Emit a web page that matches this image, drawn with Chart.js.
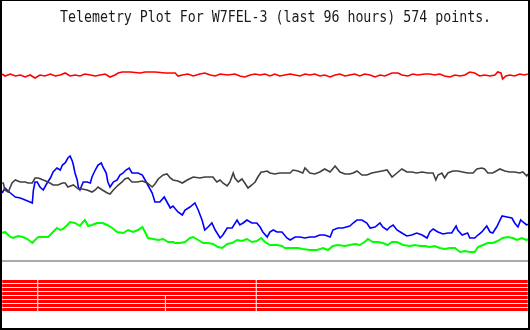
<!DOCTYPE html>
<html lang="en">
<head>
  <meta charset="UTF-8" />
  <title>Telemetry Plot For W7FEL-3</title>
  <script src="https://cdn.jsdelivr.net/npm/chart.js"></script>
  <style>
    body { margin: 0; background: #fff; }
    #wrap { position: relative; width: 530px; height: 330px; }
    #plot { position: absolute; left: 0; top: 0; }
    #frame {
      position: absolute; left: 0; top: 0; width: 530px; height: 330px;
      box-sizing: border-box; pointer-events: none;
      border-style: solid; border-color: #000;
      border-width: 1px 2px 2px 2px;
    }
    #title {
      position: absolute; left: 60px; top: 9px;
      font-family: "DejaVu Sans Mono", monospace; font-size: 15px; line-height: 16px;
      color: #1a1a1a; white-space: pre;
      transform: scaleX(0.884); transform-origin: left top;
    }
  </style>
</head>
<body>
  <div id="wrap">
    <canvas id="plot" width="530" height="330"></canvas>
    <div id="title">Telemetry Plot For W7FEL-3 (last 96 hours) 574 points.</div>
    <div id="frame"></div>
  </div>

  <script>
    // [hours, level]
    const redSeries = [
      [0,256],[0.5,254],[1.5,256],[2.4,254],[3.3,255],[4.2,253],[5.1,255],[6.0,252],[6.9,255],[7.8,254],
      [8.8,256],[9.7,254],[10.6,255],[11.5,257],[12.4,254],[13.3,255],[14.2,254],[15.1,256],[16.1,255],[17.0,254],
      [17.9,255],[18.8,256],[19.7,253],[20.6,255],[21.2,257],[21.9,258],[23.4,258],[25.2,257],[26.1,258],[27.9,258],
      [29.8,257],[31.6,257],[32.1,254],[32.9,255],[33.9,256],[34.9,254],[36.1,256],[37.0,257],[38.0,255],[38.9,254],
      [39.8,256],[41.2,255],[42.5,256],[43.4,254],[44.3,253],[45.3,255],[46.2,256],[47.1,255],[48.0,256],[48.9,254],
      [49.8,256],[50.7,254],[51.6,255],[52.6,256],[53.5,255],[54.4,254],[55.3,256],[56.2,255],[57.1,256],[58.0,254],
      [58.9,255],[59.9,253],[60.8,255],[61.7,256],[62.6,254],[63.5,255],[64.4,256],[65.3,254],[66.2,256],[67.2,255],
      [68.1,253],[69.0,255],[69.9,254],[71.2,257],[72.3,257],[73.0,255],[74.1,254],[75.0,256],[75.9,255],[77.2,256],
      [78.1,256],[79.0,255],[79.9,256],[80.8,254],[81.8,253],[82.7,255],[83.6,254],[84.5,255],[85.4,258],[86.3,257],
      [87.2,254],[88.1,255],[89.1,254],[90.0,255],[90.5,258],[91.1,257],[91.4,251],[92.0,254],[92.7,255],[93.6,254],
      [94.5,256],[95.4,255],[96.0,256]
    ];

    const blackSeries = [
      [0,147],[0.2,147],[0.5,140],[1.1,138],[1.8,147],[2.4,150],[3.3,148],[4.2,148],[4.7,147],[5.5,147],
      [6.0,152],[6.6,152],[7.5,150],[8.4,148],[9.3,145],[10.2,145],[11.0,147],[11.5,147],[12.0,143],[13.0,145],
      [13.9,141],[14.6,141],[15.5,140],[16.4,138],[17.0,140],[17.5,143],[18.3,140],[19.2,137],[19.7,136],[20.3,140],
      [21.2,145],[21.9,148],[22.4,151],[23.0,152],[23.7,148],[24.6,148],[25.6,149],[26.5,147],[27.4,143],[27.9,146],
      [28.5,151],[29.4,155],[30.1,156],[30.7,152],[31.2,150],[32.1,149],[32.9,147],[33.8,150],[34.9,153],[36.1,152],
      [37.0,153],[38.0,153],[38.5,153],[38.9,150],[39.2,148],[39.8,150],[40.3,147],[41.1,144],[41.6,148],[42.2,157],
      [42.5,152],[43.1,148],[43.8,151],[44.3,147],[44.9,142],[45.6,145],[46.2,148],[46.7,153],[47.3,158],[47.6,158],
      [48.4,159],[48.9,157],[49.8,156],[50.7,157],[51.6,157],[52.6,157],[53.1,160],[54.0,159],[54.9,157],[55.3,162],
      [56.2,157],[57.1,156],[58.0,158],[58.9,161],[59.9,158],[60.8,164],[61.7,158],[62.6,156],[63.5,156],[64.1,157],
      [64.8,159],[65.7,155],[66.6,155],[67.5,157],[68.4,158],[69.4,159],[70.3,160],[71.2,153],[72.1,157],[73.0,161],
      [73.9,158],[74.8,158],[75.7,157],[76.7,158],[77.7,157],[78.7,157],[79.2,150],[79.6,155],[80.3,157],[80.8,152],
      [81.4,157],[82.3,159],[83.2,159],[84.1,158],[85.0,157],[86.0,157],[86.7,161],[87.6,162],[88.1,161],[88.7,157],
      [89.6,157],[90.9,161],[91.8,159],[92.7,158],[93.6,158],[94.5,157],[95.1,158],[95.8,154],[96.0,156]
    ];

    const blueSeries = [
      [0,137],[0.5,142],[1.5,137],[2.4,133],[3.3,132],[4.2,130],[5.1,128],[5.5,127],[5.7,140],[6.0,148],
      [6.4,148],[6.9,143],[7.5,140],[8.2,147],[8.8,152],[9.3,158],[10.0,162],[10.6,160],[11.0,165],[11.5,167],
      [12.0,172],[12.4,174],[12.8,169],[13.0,165],[13.3,157],[13.7,150],[13.9,143],[14.2,140],[14.8,148],[15.5,148],
      [16.1,147],[16.4,153],[17.0,160],[17.5,165],[18.1,167],[18.4,163],[19.0,157],[19.3,148],[19.7,143],[20.3,148],
      [21.0,150],[21.5,155],[22.1,157],[22.6,160],[23.2,162],[23.7,157],[24.3,157],[24.8,157],[25.6,155],[26.1,150],
      [26.6,145],[27.4,137],[27.9,128],[28.8,128],[29.6,133],[30.1,128],[30.7,122],[31.2,124],[32.1,118],[32.9,115],
      [33.4,120],[34.3,123],[35.2,127],[35.8,120],[36.5,110],[37.0,100],[37.6,103],[38.3,107],[38.9,100],[39.8,92],
      [40.3,95],[41.1,102],[42.0,102],[42.9,110],[43.4,105],[44.0,107],[44.7,110],[45.6,107],[46.5,107],[47.1,103],
      [47.6,98],[48.4,93],[48.9,98],[49.5,100],[50.2,98],[51.1,98],[52.0,92],[52.6,90],[53.5,93],[54.4,93],
      [55.3,92],[56.2,93],[57.1,93],[58.0,95],[58.9,95],[59.9,93],[60.4,100],[61.3,102],[62.2,102],[63.5,104],
      [64.1,107],[64.8,110],[65.7,110],[66.6,107],[67.2,102],[68.1,103],[69.0,107],[69.5,103],[70.3,100],[70.8,103],
      [71.4,105],[72.1,100],[73.0,97],[73.9,94],[74.8,95],[75.7,97],[76.7,95],[77.6,92],[78.1,98],[78.7,101],
      [79.6,98],[80.5,96],[81.4,97],[82.1,97],[82.9,104],[83.2,100],[84.0,95],[84.5,96],[85.0,97],[85.4,92],
      [86.3,92],[86.9,95],[87.6,98],[88.5,104],[89.1,98],[89.6,97],[90.3,103],[91.3,114],[92.2,113],[93.1,112],
      [93.6,107],[94.2,103],[94.7,110],[95.1,108],[95.8,105],[96.0,106]
    ];

    const greenSeries = [
      [0,97],[0.5,98],[1.5,93],[2.0,92],[2.9,94],[3.8,93],[4.6,91],[5.5,87],[6.0,90],[6.6,93],
      [7.5,93],[8.4,93],[9.1,97],[10.0,102],[10.6,100],[11.1,101],[11.9,105],[12.4,108],[13.3,107],[14.2,104],
      [14.6,107],[15.1,110],[15.7,104],[16.4,105],[17.3,107],[18.3,107],[19.2,105],[20.1,102],[21.0,98],[22.1,97],
      [23.0,100],[23.9,98],[24.8,100],[25.6,103],[26.1,98],[26.6,92],[27.6,91],[28.5,90],[29.4,91],[30.3,88],
      [31.2,88],[31.6,87],[32.5,87],[33.4,88],[34.3,92],[34.9,93],[35.8,90],[36.7,87],[37.6,87],[38.5,86],
      [39.4,83],[40.2,82],[41.1,86],[42.0,87],[42.9,90],[43.8,89],[44.7,91],[45.6,88],[46.5,89],[47.3,92],
      [48.0,88],[48.9,85],[50.2,85],[51.1,84],[51.6,82],[52.9,82],[54.0,82],[54.9,81],[56.2,80],[57.5,80],
      [58.6,82],[59.5,80],[60.4,84],[61.3,85],[62.6,84],[63.5,85],[64.4,86],[65.3,85],[66.2,88],[66.8,91],
      [67.7,88],[68.6,88],[69.5,87],[70.4,85],[71.2,88],[72.1,88],[73.2,85],[74.5,84],[75.4,85],[76.3,84],
      [77.2,84],[78.1,83],[79.0,84],[79.9,82],[80.8,81],[81.8,82],[82.7,82],[83.6,78],[84.5,79],[85.4,78],
      [86.3,78],[86.9,83],[87.8,85],[88.7,87],[89.6,87],[90.5,89],[91.4,92],[92.3,93],[93.3,92],[94.0,90],
      [94.9,92],[95.8,90],[96.0,91]
    ];

    // digital channels: hours where each bit row shows a break
    const bitGaps = [
      [6.5, 46.4], [6.5, 46.4], [6.5, 46.4], [6.5, 46.4],
      [6.5, 29.8, 46.4], [6.5, 29.8, 46.4], [6.5, 29.8, 46.4], [6.5, 29.8, 46.4]
    ];

    const dividerLevel = 69;
    const HOURS = 96;

    const toPoints = s => s.map(([x, y]) => ({ x, y }));

    const bitRow = (gaps, level) => {
      const pts = [{ x: 0, y: level }];
      gaps.forEach(g => {
        pts.push({ x: g - 0.09, y: level }, { x: g, y: null }, { x: g + 0.09, y: level });
      });
      pts.push({ x: HOURS, y: level });
      return pts;
    };

    const lineSet = (data, color, width) => ({
      data, borderColor: color, backgroundColor: color,
      borderWidth: width, pointRadius: 0, tension: 0, spanGaps: false
    });

    const datasets = [
      lineSet(toPoints(redSeries), "#ff0000", 1.6),
      lineSet(toPoints(blackSeries), "#404040", 1.6),
      lineSet(toPoints(blueSeries), "#0000ff", 1.6),
      lineSet(toPoints(greenSeries), "#00ff00", 2),
      ...bitGaps.map((g, i) => lineSet(bitRow(g, 48.5 - 4 * i), "#ff0000", 3))
    ];

    new Chart(document.getElementById("plot"), {
      type: "line",
      data: { datasets },
      options: {
        responsive: false,
        animation: false,
        events: [],
        layout: { padding: 0 },
        plugins: { legend: { display: false }, tooltip: { enabled: false }, title: { display: false } },
        scales: {
          x: { type: "linear", min: -0.4, max: 96.4, display: false },
          y: {
            type: "linear", min: 0, max: 330,
            ticks: { display: false },
            border: { display: false },
            grid: { color: "#aaaaaa", lineWidth: 2, drawTicks: false },
            afterBuildTicks: scale => { scale.ticks = [{ value: dividerLevel }]; }
          }
        }
      }
    });
  </script>
</body>
</html>
